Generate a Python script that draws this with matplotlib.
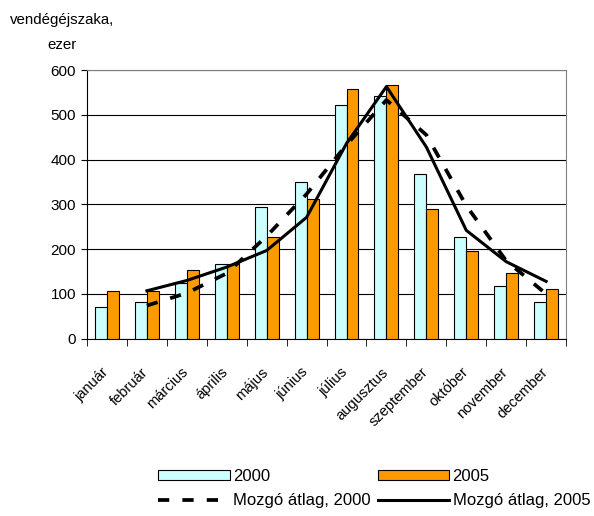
import numpy as np
import matplotlib.pyplot as plt
import matplotlib.transforms as mtransforms
from matplotlib.lines import Line2D
from matplotlib.patches import Patch

plt.rcParams['font.family'] = ['Liberation Sans', 'DejaVu Sans']

months = ["január", "február", "március", "április", "május", "június",
          "július", "augusztus", "szeptember", "október", "november", "december"]
y2000 = [70, 81, 125, 166, 294, 349, 522, 541, 367, 228, 117, 81]
y2005 = [107, 107, 154, 166, 228, 312, 558, 567, 290, 195, 147, 110]
# moving averages (2 periods), from február
ma2000 = [74, 102, 146, 229, 323, 433, 533, 455, 297, 174, 100]
ma2005 = [107, 130, 160, 197, 271, 436, 563, 428, 242, 172, 128]

x = np.arange(len(months))
w = 0.3

fig = plt.figure(figsize=(5.94, 5.16), dpi=100)
ax = fig.add_axes([0.1465, 0.3436, 0.8065, 0.5207])

ax.bar(x - w / 2, y2000, w, color="#CCFFFF", edgecolor="black", linewidth=0.8, zorder=3)
ax.bar(x + w / 2, y2005, w, color="#FF9900", edgecolor="black", linewidth=0.8, zorder=3)
ax.plot(x[1:], ma2000, color="black", lw=2.7, dashes=(3, 3.5), zorder=4)
ax.plot(x[1:], ma2005, color="black", lw=2.2, zorder=4)

ax.set_xlim(-0.5, len(months) - 0.5)
ax.set_ylim(0, 600)
ax.set_yticks(range(0, 601, 100))
ax.yaxis.grid(True, color="black", lw=0.8, zorder=0)
ax.tick_params(axis="y", labelsize=11, length=4, direction="out", pad=4)

ax.set_xticks(x)
ax.set_xticklabels(months, rotation=45, ha="right", va="top", rotation_mode="anchor", fontsize=10.5)
ax.tick_params(axis="x", which="major", length=0, pad=19)
shift = mtransforms.ScaledTranslation(-4 / 72, 0, fig.dpi_scale_trans)
for lbl in ax.get_xticklabels():
    lbl.set_transform(lbl.get_transform() + shift)
ax.set_xticks(np.arange(-0.5, len(months)), minor=True)
ax.tick_params(axis="x", which="minor", length=5, direction="out")

for s in ["top", "right"]:
    ax.spines[s].set_color("#808080")
ax.spines["left"].set_color("black")
ax.spines["bottom"].set_color("black")

fig.text(0.105, 0.962, "vendégéjszaka,", ha="center", va="center", fontsize=10.8)
fig.text(0.105, 0.913, "ezer", ha="center", va="center", fontsize=10.8)

handles = [
    Patch(facecolor="#CCFFFF", edgecolor="black", linewidth=0.8),
    Line2D([], [], color="black", lw=2.7, dashes=(3, 3.5)),
    Patch(facecolor="#FF9900", edgecolor="black", linewidth=0.8),
    Line2D([], [], color="black", lw=2.2),
]
labels = ["2000", "Mozgó átlag, 2000", "2005", "Mozgó átlag, 2005"]
fig.legend(handles, labels, ncol=2, loc="center", bbox_to_anchor=(0.63, 0.0535),
           frameon=False, fontsize=12, handlelength=4.3, handleheight=0.55,
           handletextpad=0.2, columnspacing=0.4, labelspacing=0.55)

fig.savefig("out.png", dpi=100)
